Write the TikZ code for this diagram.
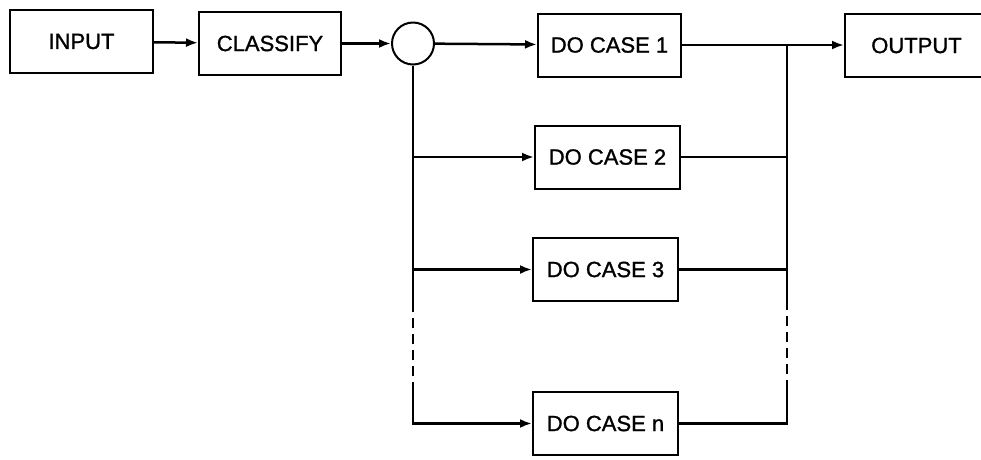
\documentclass[tikz,border=0pt]{standalone}
\usepackage{fontspec}
\setmainfont{Liberation Sans}[FakeBold=1.2]
\usetikzlibrary{arrows.meta}
\begin{document}
\begin{tikzpicture}[x=1pt,y=1pt,
  blk/.style={draw, line width=2pt, minimum height=63pt, inner sep=0pt, font=\fontsize{22}{25}\selectfont},
  conn/.style={line width=2.5pt},
  arr/.style={conn, -{Latex[length=12pt,width=9pt]}},
  dsh/.style={conn, dash pattern=on 10pt off 6pt}]
\useasboundingbox (0,0) rectangle (981,-459);
\node[blk, minimum width=143pt] (input) at (81.5,-41.5) {INPUT};
\node[blk, minimum width=142pt] (classify) at (270,-43.5) {CLASSIFY};
\node[draw, circle, line width=2pt, minimum size=42pt, inner sep=0pt] (circ) at (413,-43.5) {};
\node[blk, minimum width=143pt] (case1) at (609.5,-45) {DO CASE 1};
\node[blk, minimum width=145pt] (case2) at (607.5,-157) {DO CASE 2};
\node[blk, minimum width=145pt] (case3) at (605.5,-269.5) {DO CASE 3};
\node[blk, minimum width=145pt] (casen) at (605.5,-423.5) {DO CASE n};
\node[blk, minimum width=143pt] (output) at (916.5,-45.5) {OUTPUT};
\coordinate (ld1) at (413,-302);
\coordinate (ld2) at (413,-384);
\coordinate (rt) at (787,-45);
\coordinate (rd1) at (787,-300);
\coordinate (rd2) at (787,-387);
\draw[arr] (input) -- (classify);
\draw[arr] (classify) -- (circ);
\draw[arr] (circ) -- (case1);
\draw[arr] (case1.east) -- (case1.east -| output.west);
\draw[conn] (circ.south) -- (ld1);
\draw[dsh] (ld1) -- (ld2);
\draw[arr] (ld2) |- (casen.west);
\draw[arr] (circ.south |- case2.west) -- (case2.west);
\draw[arr] (circ.south |- case3.west) -- (case3.west);
\draw[conn] (rt) -- (rd1);
\draw[dsh] (rd1) -- (rd2);
\draw[conn] (casen.east) -| (rd2);
\draw[conn] (case2.east) -- (case2.east -| rt);
\draw[conn] (case3.east) -- (case3.east -| rt);
\end{tikzpicture}
\end{document}
